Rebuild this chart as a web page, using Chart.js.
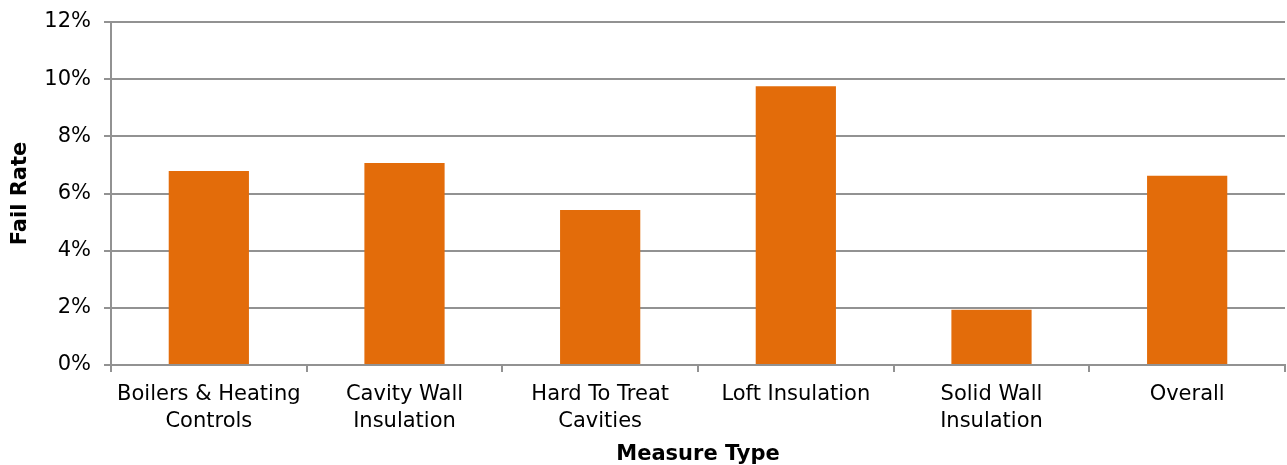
<!DOCTYPE html>
<html>
<head>
<meta charset="utf-8">
<script src="https://cdn.jsdelivr.net/npm/chart.js@4"></script>
<style>
  html, body { margin: 0; padding: 0; background: #ffffff; }
  #wrap { width: 1287px; height: 465px; position: relative; }
</style>
</head>
<body>
<div id="wrap"><canvas id="chart" width="1287" height="465"></canvas></div>
<script>
// Fail rate by measure type (percent)
const categories = [
  ["Boilers & Heating", "Controls"],
  ["Cavity Wall", "Insulation"],
  ["Hard To Treat", "Cavities"],
  ["Loft Insulation"],
  ["Solid Wall", "Insulation"],
  ["Overall"]
];
const failRate = [6.79, 7.07, 5.42, 9.75, 1.93, 6.62];
const yTicks = [0, 2, 4, 6, 8, 10, 12];

const FONT = "'DejaVu Sans', Verdana, sans-serif";
const GRID = "#929292";

new Chart(document.getElementById("chart"), {
  type: "bar",
  data: {
    labels: categories,
    datasets: [{
      data: failRate,
      backgroundColor: "#E36C0A",
      borderWidth: 0,
      barPercentage: 0.41,
      categoryPercentage: 1.0
    }]
  },
  options: {
    responsive: false,
    animation: false,
    layout: { padding: { top: 22, right: 2, left: 0, bottom: 0 } },
    plugins: { legend: { display: false }, tooltip: { enabled: false } },
    scales: {
      x: {
        offset: true,
        grid: {
          offset: true,
          drawOnChartArea: false,
          drawTicks: true,
          tickLength: 7,
          color: GRID,
          lineWidth: 2
        },
        border: { display: true, color: GRID, width: 2 },
        ticks: {
          color: "#000000",
          font: { family: FONT, size: 21, lineHeight: 1.3 },
          padding: 9,
          maxRotation: 0,
          autoSkip: false
        },
        title: {
          display: true,
          text: "Measure Type",
          color: "#000000",
          font: { family: FONT, size: 21, weight: "bold", lineHeight: 1.0 },
          padding: { top: 0, bottom: 0 }
        },
        afterFit(scale) { scale.height = 100; }
      },
      y: {
        min: 0,
        max: 12,
        afterBuildTicks(scale) { scale.ticks = yTicks.map(v => ({ value: v })); },
        grid: {
          color: GRID,
          lineWidth: 2,
          drawTicks: true,
          tickLength: 7
        },
        border: { display: true, color: GRID, width: 2 },
        ticks: {
          color: "#000000",
          font: { family: FONT, size: 21 },
          padding: 13,
          callback: v => v + "%"
        },
        title: {
          display: true,
          text: "Fail Rate",
          color: "#000000",
          font: { family: FONT, size: 21, weight: "bold" },
          padding: { top: 8, bottom: 0 }
        },
        afterFit(scale) {
          scale.width = 111;
          scale.paddingTop = 0;
          scale.paddingBottom = 0;
        }
      }
    }
  }
});
</script>
</body>
</html>
